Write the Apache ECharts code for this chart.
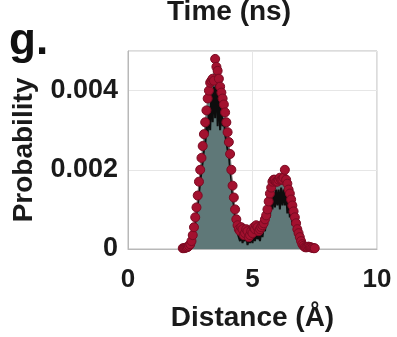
<!DOCTYPE html>
<html>
<head>
<meta charset="utf-8">
<script src="https://cdn.jsdelivr.net/npm/echarts@6/dist/echarts.min.js"></script>
<style>html,body{margin:0;padding:0;background:#fff}#c{width:397px;height:337px}</style>
</head>
<body>
<div id="c"></div>
<script>
// Envelope (red markers), distance in Å, probability
const envDist = [2.20,2.25,2.30,2.35,2.40,2.45,2.50,2.55,2.60,2.65,2.70,2.75,2.80,2.85,2.90,2.95,3.00,3.05,3.10,3.15,3.20,3.25,3.30,3.35,3.40,3.45,3.50,3.55,3.60,3.65,3.70,3.75,3.80,3.85,3.90,3.95,4.00,4.05,4.10,4.15,4.20,4.25,4.30,4.35,4.40,4.45,4.50,4.55,4.60,4.65,4.70,4.75,4.80,4.85,4.90,4.95,5.00,5.05,5.10,5.15,5.20,5.25,5.30,5.35,5.40,5.45,5.50,5.55,5.60,5.65,5.70,5.75,5.80,5.85,5.90,5.95,6.00,6.05,6.10,6.15,6.20,6.25,6.30,6.35,6.40,6.45,6.50,6.55,6.60,6.65,6.70,6.75,6.80,6.85,6.90,6.95,7.00,7.05,7.10,7.15,7.20,7.25,7.30,7.35,7.40,7.45,7.50];
const envProb = [0.00002,0.00002,0.00003,0.00004,0.00005,0.00008,0.00012,0.0002,0.00035,0.00055,0.0008,0.00105,0.00135,0.0017,0.002,0.0023,0.0026,0.0029,0.0032,0.0035,0.0038,0.004,0.0042,0.00425,0.0043,0.00425,0.0048,0.0046,0.0045,0.0043,0.0041,0.00395,0.0038,0.00365,0.00345,0.0032,0.00295,0.0027,0.0024,0.002,0.0016,0.0013,0.001,0.00075,0.0006,0.0005,0.00045,0.00055,0.0005,0.00035,0.0004,0.0005,0.00045,0.0003,0.00035,0.00045,0.0004,0.00055,0.0005,0.0006,0.00055,0.00045,0.0005,0.00055,0.0006,0.00065,0.00075,0.00085,0.001,0.0012,0.0014,0.00155,0.0017,0.00175,0.00175,0.0017,0.0017,0.00175,0.0018,0.00175,0.00175,0.0018,0.002,0.00175,0.00165,0.0015,0.0014,0.00125,0.0011,0.00095,0.0008,0.00065,0.0005,0.0004,0.0003,0.0002,0.00012,0.00008,0.00005,0.00004,0.00005,0.00006,0.00005,0.00004,0.00003,0.00002,0.00002];
// Raw noisy histogram (black line)
const rawDist = [2.50,2.55,2.60,2.65,2.70,2.75,2.80,2.85,2.90,2.95,3.00,3.05,3.10,3.15,3.20,3.25,3.30,3.35,3.40,3.45,3.50,3.55,3.60,3.65,3.70,3.75,3.80,3.85,3.90,3.95,4.00,4.05,4.10,4.15,4.20,4.25,4.30,4.35,4.40,4.45,4.50,4.55,4.60,4.65,4.70,4.75,4.80,4.85,4.90,4.95,5.00,5.05,5.10,5.15,5.20,5.25,5.30,5.35,5.40,5.45,5.50,5.55,5.60,5.65,5.70,5.75,5.80,5.85,5.90,5.95,6.00,6.05,6.10,6.15,6.20,6.25,6.30,6.35,6.40,6.45,6.50,6.55,6.60,6.65,6.70,6.75,6.80,6.85,6.90,6.95,7.00];
const rawProb = [0.00008,0.00015,0.00028,0.00045,0.00065,0.0009,0.0011,0.0014,0.0017,0.00195,0.0022,0.0025,0.0026,0.0031,0.0029,0.0036,0.003,0.004,0.0032,0.0041,0.0033,0.0045,0.0031,0.004,0.003,0.0036,0.0031,0.0033,0.0029,0.0029,0.0025,0.0024,0.002,0.00175,0.0013,0.0011,0.0008,0.0006,0.0004,0.0004,0.0002,0.0004,0.00015,0.0003,0.0002,0.00035,0.0001,0.00025,0.00015,0.00035,0.00015,0.0004,0.0002,0.00045,0.00025,0.00035,0.0002,0.00045,0.0003,0.00055,0.00045,0.0007,0.00065,0.001,0.0008,0.0013,0.001,0.00145,0.00105,0.0015,0.0011,0.0015,0.001,0.00155,0.0011,0.0015,0.0011,0.00145,0.0009,0.0012,0.0008,0.001,0.0006,0.00075,0.00045,0.0005,0.00025,0.0003,0.00012,0.00012,0.00005];
const xTicks = [0,5,10];
const yTicks = [0,0.002,0.004];

const env = envDist.map((d,i)=>[d,envProb[i]]);
const raw = rawDist.map((d,i)=>[d,rawProb[i]]);
const FONT = 'Liberation Sans';
const chart = echarts.init(document.getElementById('c'));
chart.setOption({
  animation:false,
  title:{text:'Time (ns)',left:167,top:-2,padding:0,textStyle:{fontFamily:FONT,fontWeight:'bold',fontSize:28,color:'#1a1a1a'}},
  graphic:[{type:'text',left:9,top:20,style:{text:'g.',font:'bold 44px "Liberation Sans"',fill:'#111'}}],
  grid:{left:128,right:20,top:51,bottom:86,show:true,borderColor:'#b8b8b8',borderWidth:1,backgroundColor:'#fff'},
  xAxis:{type:'value',min:0,max:10,interval:5,
    name:'Distance (Å)',nameLocation:'middle',nameGap:55,
    nameTextStyle:{fontFamily:FONT,fontWeight:'bold',fontSize:28,color:'#1a1a1a',verticalAlign:'top'},
    axisLine:{show:true,lineStyle:{color:'#b8b8b8'}},axisTick:{show:false},
    splitLine:{show:true,lineStyle:{color:'#e6e6e6'}},
    axisLabel:{margin:18,fontFamily:FONT,fontWeight:'bold',fontSize:26,color:'#1a1a1a',
      formatter:v=>xTicks.includes(v)?String(v):''}},
  yAxis:{type:'value',min:0,max:0.005,interval:0.002,
    name:'Probability',nameLocation:'middle',nameGap:90,
    nameTextStyle:{fontFamily:FONT,fontWeight:'bold',fontSize:28,color:'#1a1a1a'},
    axisLine:{show:true,lineStyle:{color:'#b8b8b8'}},axisTick:{show:false},
    splitLine:{show:true,lineStyle:{color:'#e6e6e6'}},
    axisLabel:{margin:10,fontFamily:FONT,fontWeight:'bold',fontSize:27,color:'#1a1a1a',
      formatter:v=>{const t=yTicks.find(y=>Math.abs(y-v)<1e-9);return t===undefined?'':(t===0?'0':t.toFixed(3));}}},
  series:[
    {type:'line',data:env,showSymbol:false,symbol:'none',lineStyle:{width:0},
     areaStyle:{color:'#5f7878',opacity:1},z:1},
    {type:'line',data:raw,showSymbol:false,symbol:'none',lineStyle:{color:'#0d0d0d',width:2},z:2},
    {type:'line',data:env,symbol:'circle',symbolSize:9,showAllSymbol:true,
     lineStyle:{color:'#777',width:1},
     itemStyle:{color:'#a3112f',borderColor:'#7a0a22',borderWidth:1},z:3}
  ]
});
</script>
</body>
</html>
